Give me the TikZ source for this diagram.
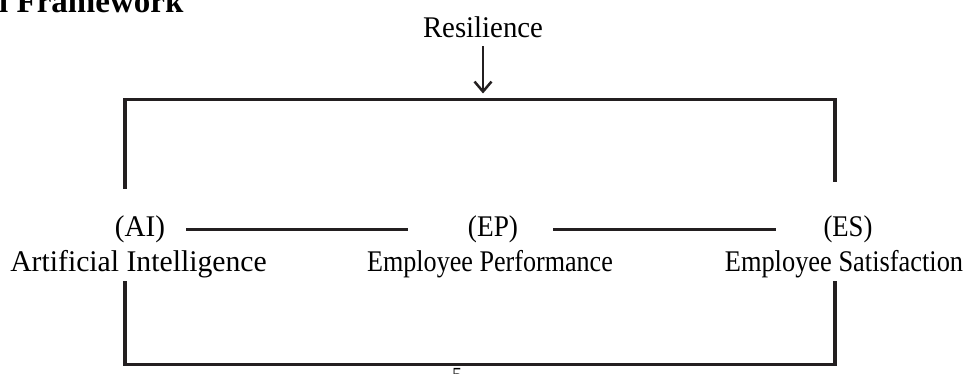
\documentclass[tikz,border=0pt]{standalone}
\usepackage{fontspec}
\setmainfont{Liberation Serif}
\usetikzlibrary{arrows.meta}
\definecolor{ink}{HTML}{231F20}
% horizontally narrowed text
\newcommand{\narrowby}[2]{\scalebox{#1}[1]{#2}}
\tikzset{
  label text/.style={inner sep=0pt, text=black, font=\fontsize{30}{30}\selectfont},
  link/.style={draw=ink, line width=3.4pt},
  bracket/.style={draw=ink, line width=3.4pt, line cap=rect},
  pointer/.style={draw=ink, line width=2.5pt, -{Straight Barb[length=10pt, width=17pt, line width=2.5pt]}}
}
\begin{document}
\begin{tikzpicture}[x=1pt, y=-1pt]
\useasboundingbox (0,0) rectangle (968,374);

% heading and page number, clipped by the page edge
\node[anchor=base west, inner sep=0pt, font=\bfseries\fontsize{33}{33}\selectfont] (heading) at (-1,13) {l Framework};
\node[anchor=north, inner sep=0pt, font=\fontsize{20}{20}\selectfont] (pagenum) at (457,368) {5};

% moderator
\node[label text, anchor=base] (res) at (483,38) {\narrowby{0.96}{Resilience}};

% variables: abbreviations and full names
\node[label text, anchor=base] (aicode) at (140,236) {\narrowby{0.97}{(AI)}};
\node[label text, anchor=base] (ainame) at (138.5,271) {\narrowby{0.99}{Artificial Intelligence}};
\node[label text, anchor=base] (epcode) at (493,236) {\narrowby{0.91}{(EP)}};
\node[label text, anchor=base] (epname) at (490,271) {\narrowby{0.87}{Employee Performance}};
\node[label text, anchor=base] (escode) at (848,236) {\narrowby{0.89}{(ES)}};
\node[label text, anchor=base] (esname) at (844,271) {\narrowby{0.88}{Employee Satisfaction}};

% bracket end points
\coordinate (tl) at (125,187);
\coordinate (tlc) at (125,99.5);
\coordinate (trc) at (835,99.5);
\coordinate (tr) at (835,180);
\coordinate (bl) at (125,283);
\coordinate (blc) at (125,364.5);
\coordinate (brc) at (835,364.5);
\coordinate (br) at (835,283);
\coordinate (hit) at (483,99.5);

% connectors between the variables
\draw[link, shorten <=21pt, shorten >=60pt] ([yshift=-1pt]aicode.east) -- ([yshift=-1pt]epcode.west);
\draw[link, shorten <=35pt, shorten >=47pt] ([yshift=-1pt]epcode.east) -- ([yshift=-1pt]escode.west);

% moderating brackets
\draw[bracket] (tl) -- (tlc) -- (trc) -- (tr);
\draw[bracket] (bl) -- (blc) -- (brc) -- (br);

% moderator arrow
\draw[pointer, shorten <=8pt, shorten >=6pt] (res.south) -- (hit);
\end{tikzpicture}
\end{document}
